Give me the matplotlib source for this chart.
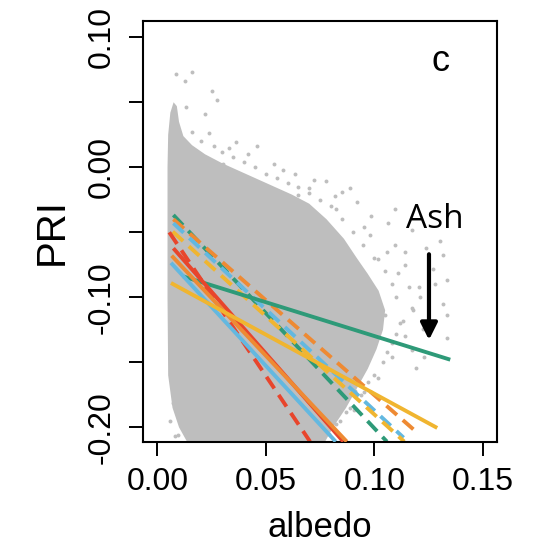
import matplotlib
matplotlib.use("Agg")
import matplotlib.pyplot as plt

plt.rcParams['font.family'] = ['Liberation Sans', 'DejaVu Sans']

# dense part of the grey point cloud (outline)
cloud_x = [0.0047, 0.0050, 0.0060, 0.0075, 0.0090, 0.0100, 0.0120, 0.016, 0.022, 0.030,
           0.038, 0.046, 0.054, 0.062, 0.070, 0.078, 0.086, 0.092, 0.097, 0.102,
           0.105, 0.104, 0.101, 0.097, 0.092, 0.087, 0.081, 0.076, 0.015, 0.010,
           0.007, 0.005, 0.0047]
cloud_y = [0.000, 0.025, 0.042, 0.050, 0.047, 0.035, 0.024, 0.017, 0.010, 0.003,
           -0.003, -0.009, -0.015, -0.021, -0.028, -0.040, -0.055, -0.070, -0.082, -0.095,
           -0.110, -0.125, -0.140, -0.155, -0.170, -0.185, -0.200, -0.215, -0.215, -0.200,
           -0.185, -0.160, -0.100]

# scattered points outside the dense part
pts_x = [0.0086, 0.0158, 0.0126, 0.0253, 0.0277, 0.0134, 0.0221, 0.0158, 0.046, 0.0364,
         0.0301, 0.0539, 0.0634, 0.0849, 0.0889, 0.0778, 0.0698, 0.0984, 0.1064, 0.0952,
         0.1095, 0.1175, 0.1238, 0.1143, 0.1318, 0.1302, 0.1095, 0.1016, 0.127, 0.1334,
         0.1207, 0.1111, 0.1318, 0.1334, 0.1175, 0.1223, 0.1143, 0.1334, 0.1191, 0.1230,
         0.1175, 0.108, 0.1016, 0.0952, 0.0905, 0.0825, 0.0094, 0.007, 0.1048, 0.0937,
         0.0857, 0.0825, 0.0921, 0.065,
         0.020, 0.026, 0.030, 0.035, 0.040, 0.045, 0.050, 0.055, 0.060, 0.065,
         0.070, 0.075, 0.080, 0.085, 0.090, 0.095, 0.100, 0.105, 0.108, 0.110,
         0.112, 0.108, 0.104, 0.100, 0.094, 0.089, 0.084, 0.079, 0.006, 0.008,
         0.024, 0.033, 0.042, 0.058, 0.072, 0.082, 0.098, 0.106, 0.114, 0.116,
         0.118, 0.113, 0.110, 0.106, 0.097, 0.091, 0.087, 0.121, 0.125, 0.128]
pts_y = [0.072, 0.0733, 0.0665, 0.0584, 0.0516, 0.0462, 0.0408, 0.0272, 0.0164, 0.0191,
         0.0029, 0.0029, -0.0052, -0.0188, -0.0161, -0.0106, -0.0161, -0.0377, -0.0432, -0.0459,
         -0.0323, -0.0486, -0.0621, -0.0649, -0.0675, -0.0567, -0.0594, -0.0702, -0.0784, -0.0865,
         -0.0919, -0.0811, -0.1054, -0.1136, -0.1081, -0.1244, -0.1298, -0.1312, -0.1542, -0.1461,
         -0.1406, -0.1461, -0.1623, -0.1731, -0.1867, -0.1975, -0.2056, -0.1812, -0.1136, -0.1027,
         -0.0946, -0.0323, -0.0269, -0.0215,
         0.020, 0.016, 0.012, 0.008, 0.004, 0.000, -0.005, -0.008, -0.012, -0.015,
         -0.020, -0.025, -0.030, -0.040, -0.050, -0.060, -0.070, -0.080, -0.090, -0.100,
         -0.120, -0.135, -0.150, -0.160, -0.175, -0.185, -0.195, -0.205, -0.195, -0.207,
         0.026, 0.015, 0.010, -0.002, -0.010, -0.022, -0.052, -0.065, -0.075, -0.092,
         -0.110, -0.118, -0.128, -0.142, -0.165, -0.172, -0.188, -0.100, -0.118, -0.090]

# fitted lines: start and end points
fit_color = ['green', 'orange', 'blue', 'yellow', 'red',
             'green', 'red', 'orange', 'blue', 'yellow']
fit_dashed = [True, True, True, True, True, False, False, False, False, False]
fit_x0 = [0.0074, 0.0074, 0.0074, 0.0071, 0.0055, 0.012, 0.0074, 0.0066, 0.0063, 0.0063]
fit_y0 = [-0.0367, -0.040, -0.043, -0.0495, -0.050, -0.084, -0.0623, -0.068, -0.0735, -0.089]
fit_x1 = [0.1058, 0.119, 0.1135, 0.1138, 0.0704, 0.135, 0.0857, 0.0873, 0.0822, 0.129]
fit_y1 = [-0.211, -0.203, -0.208, -0.211, -0.211, -0.148, -0.211, -0.211, -0.211, -0.2005]

colors = {'green': '#2E9A78', 'orange': '#EE8A33', 'blue': '#63B8E0',
          'red': '#E8452C', 'yellow': '#F0B530'}

fig = plt.figure(figsize=(5.38, 5.49), dpi=100)
ax = fig.add_axes([0.2664, 0.1954, 0.6568, 0.7663])

ax.fill(cloud_x, cloud_y, color='#BEBEBE', lw=0, zorder=1)
ax.scatter(pts_x, pts_y, s=8, color='#BEBEBE', lw=0, zorder=1)

for i in range(len(fit_x0)):
    if fit_dashed[i]:
        ax.plot([fit_x0[i], fit_x1[i]], [fit_y0[i], fit_y1[i]], color=colors[fit_color[i]],
                lw=2.8, dashes=(3.6, 2.0), solid_capstyle='butt', zorder=2)
for i in range(len(fit_x0)):
    if not fit_dashed[i]:
        ax.plot([fit_x0[i], fit_x1[i]], [fit_y0[i], fit_y1[i]], color=colors[fit_color[i]],
                lw=2.8, solid_capstyle='butt', zorder=3)

ax.set_xlim(-0.00645, 0.1564)
ax.set_ylim(-0.2111, 0.1125)

ax.set_xticks([0.0, 0.05, 0.10, 0.15])
ax.set_xticklabels(['0.00', '0.05', '0.10', '0.15'])
ax.set_yticks([-0.20, -0.15, -0.10, -0.05, 0.0, 0.05, 0.10])
ax.set_yticklabels(['-0.20', '', '-0.10', '', '0.00', '', '0.10'], rotation=90, va='center')
ax.tick_params(length=10, width=1.4, labelsize=23, direction='out')
ax.tick_params(axis='x', pad=8)
ax.tick_params(axis='y', pad=9)
for s in ax.spines.values():
    s.set_linewidth(1.5)

ax.set_xlabel('albedo', fontsize=25, labelpad=10)
ax.set_ylabel('PRI', fontsize=29, labelpad=12)

ax.text(0.1303, 0.081, 'c', fontsize=26, ha='center', va='center')
ax.text(0.128, -0.040, 'Ash', fontsize=24, ha='center', va='center',
        family=['Open Sans', 'DejaVu Sans'])
ax.annotate('', xy=(0.1252, -0.1328), xytext=(0.1252, -0.0669),
            arrowprops=dict(arrowstyle='-|>,head_length=1.0,head_width=0.5',
                            color='black', lw=3.0, shrinkA=0, shrinkB=0))

fig.savefig('out.png', dpi=100)
